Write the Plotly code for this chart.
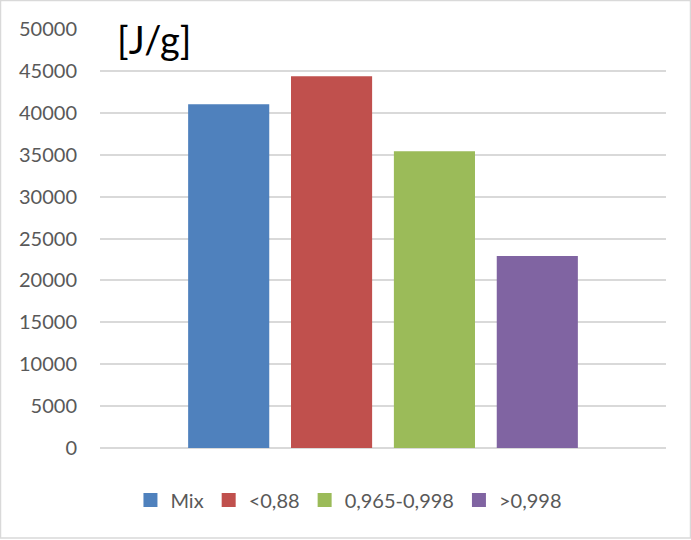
import plotly.graph_objects as go

# Heat of combustion by fraction
category = [""]
series_names = ["Mix", "<0,88", "0,965-0,998", ">0,998"]
series_values = [40900, 44250, 35300, 22800]
series_colors = ["#4F81BD", "#C0504D", "#9BBB59", "#8064A2"]
y_ticks = list(range(0, 50001, 5000))

W, H = 691, 540
L, R, T, B = 100, 25, 29, 92
pw, ph = W - L - R, H - T - B

fig = go.Figure()
for name, val, col in zip(series_names, series_values, series_colors):
    fig.add_trace(go.Bar(
        x=category, y=[val], name=name,
        marker=dict(color=col, line=dict(width=2, color=col)),
    ))

def px_x(x):
    return (x - L) / pw

def px_y(y):
    return (H - B - y) / ph

fig.update_layout(
    width=W, height=H,
    margin=dict(l=L, r=R, t=T, b=B, pad=0, autoexpand=False),
    paper_bgcolor="white", plot_bgcolor="white",
    barmode="group", bargap=0.273, bargroupgap=0.231,
    font=dict(family="Lato", size=20, color="#595959"),
    xaxis=dict(showticklabels=False, showgrid=False, zeroline=False,
               showline=False, ticks=""),
    yaxis=dict(range=[0, 50000], tickvals=y_ticks, ticktext=[str(v) for v in y_ticks],
               showgrid=True, gridcolor="#D9D9D9", gridwidth=2,
               zeroline=True, zerolinecolor="#D9D9D9", zerolinewidth=2,
               showline=False, ticks="", ticklabelstandoff=22,
               tickfont=dict(family="Lato", size=20, color="#595959")),
    legend=dict(orientation="h", xref="container", x=0.505, xanchor="center",
                yref="container", y=1 - 500 / H, yanchor="middle",
                font=dict(family="Lato", size=20, color="#595959"),
                itemwidth=30, traceorder="normal", bgcolor="rgba(0,0,0,0)"),
    showlegend=True,
    annotations=[dict(text="[J/g]", xref="paper", yref="paper",
                      x=px_x(115), y=px_y(39), xanchor="left", yanchor="middle",
                      showarrow=False,
                      font=dict(family="Lato", size=38, color="black"))],
    shapes=[dict(type="rect", xref="paper", yref="paper",
                 x0=px_x(0.5), x1=px_x(W - 0.5), y0=px_y(538), y1=px_y(0.5),
                 line=dict(color="#D9D9D9", width=1.5), fillcolor="rgba(0,0,0,0)",
                 layer="below")],
)

fig.write_html("out.html")
